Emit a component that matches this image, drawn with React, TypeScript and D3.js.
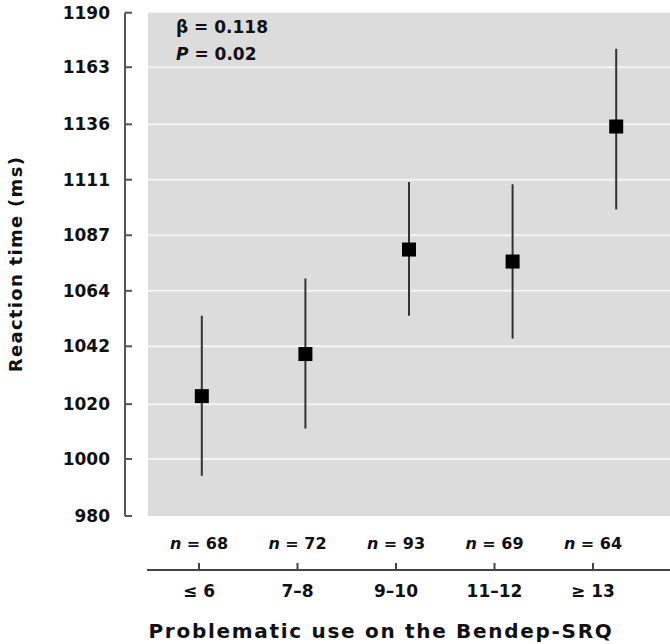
import React from "react";
import * as d3 from "d3";

const categories = ["≤ 6", "7–8", "9–10", "11–12", "≥ 13"];
const nCounts = [68, 72, 93, 69, 64];
const means = [1023, 1039, 1081, 1076, 1135];
const lower = [994, 1011, 1054, 1045, 1098];
const upper = [1054, 1069, 1110, 1109, 1172];
const yTicks = [980, 1000, 1020, 1042, 1064, 1087, 1111, 1136, 1163, 1190];

const W = 670;
const H = 644;
const FONT = "'DejaVu Sans', sans-serif";

export default function App() {
  // reciprocal scale: linear in 1000/value
  const yLin = d3.scaleLinear().domain([1000 / 980, 1000 / 1190]).range([516, 12.7]);
  const y = (v: number) => yLin(1000 / v);

  const xMarks = d3.scaleBand<string>().domain(categories).range([150, 668]);
  const xm = (c: string) => (xMarks(c) as number) + xMarks.bandwidth() / 2;
  const xAxis = d3.scalePoint<string>().domain(categories).range([199, 593]);

  const plotLeft = 148;
  const axisX = 125;
  const xAxisY = 570;
  const sq = 14;

  return (
    <svg
      width={W}
      height={H}
      style={{ position: "absolute", left: 0, top: 0, background: "#fff" }}
      fontFamily={FONT}
    >
      <rect x={plotLeft} y={y(1190)} width={W - plotLeft} height={y(980) - y(1190)} fill="#dcdcdc" />
      {yTicks.slice(1, -1).map((t) => (
        <line key={"g" + t} x1={plotLeft} x2={W} y1={y(t)} y2={y(t)} stroke="#f4f4f4" strokeWidth={2} />
      ))}

      {/* y axis */}
      <line x1={axisX} x2={axisX} y1={y(1190)} y2={y(980)} stroke="#555" strokeWidth={2} />
      {yTicks.map((t) => (
        <g key={"t" + t}>
          <line x1={axisX} x2={axisX + 7} y1={y(t)} y2={y(t)} stroke="#555" strokeWidth={2} />
          <text x={110} y={y(t)} dy="0.36em" textAnchor="end" fontSize={17} fontWeight="bold" fill="#111">
            {t}
          </text>
        </g>
      ))}
      <text
        transform={`translate(22, 264) rotate(-90)`}
        textAnchor="middle"
        fontSize={18}
        fontWeight="bold"
        letterSpacing={1.3}
        fill="#111"
      >
        Reaction time (ms)
      </text>

      {/* x axis */}
      <line x1={147} x2={W} y1={xAxisY} y2={xAxisY} stroke="#444" strokeWidth={2} />
      {categories.map((c, i) => (
        <g key={"x" + c}>
          <line x1={xAxis(c)} x2={xAxis(c)} y1={xAxisY} y2={xAxisY - 7} stroke="#444" strokeWidth={2} />
          <text x={xAxis(c)} y={549} textAnchor="middle" fontSize={16} fontWeight="bold" fill="#111">
            <tspan fontStyle="italic">n</tspan> = {nCounts[i]}
          </text>
          <text x={xAxis(c)} y={597} textAnchor="middle" fontSize={17} fontWeight="bold" fill="#111">
            {c}
          </text>
        </g>
      ))}
      <text x={381} y={638} textAnchor="middle" fontSize={20} fontWeight="bold" letterSpacing={1.7} fill="#111">
        Problematic use on the Bendep-SRQ
      </text>

      {/* error bars and markers */}
      {categories.map((c, i) => (
        <g key={"m" + c}>
          <line x1={xm(c)} x2={xm(c)} y1={y(lower[i])} y2={y(upper[i])} stroke="#333" strokeWidth={2} />
          <rect x={xm(c) - sq / 2} y={y(means[i]) - sq / 2} width={sq} height={sq} fill="#000" />
        </g>
      ))}

      {/* annotation */}
      <text x={176} y={33} fontSize={17} fontWeight="bold" fill="#111">
        β = 0.118
      </text>
      <text x={176} y={60} fontSize={17} fontWeight="bold" fill="#111">
        <tspan fontStyle="italic">P</tspan> = 0.02
      </text>
    </svg>
  );
}
